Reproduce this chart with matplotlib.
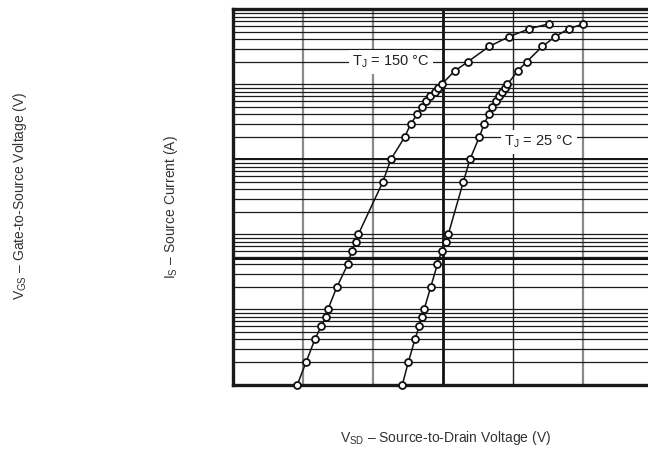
import matplotlib
matplotlib.use("Agg")
import matplotlib.pyplot as plt
from matplotlib.ticker import LogLocator, NullFormatter, FixedLocator

plt.rcParams['font.family'] = ['Liberation Sans', 'DejaVu Sans']
plt.rcParams['mathtext.fontset'] = 'custom'
plt.rcParams['mathtext.rm'] = 'Liberation Sans'
plt.rcParams['mathtext.it'] = 'Liberation Sans:italic'

# ---- data ----
source_current = [0.01, 0.02, 0.04, 0.06, 0.08, 0.1, 0.2, 0.4, 0.6, 0.8, 1.0,
                  5, 10, 20, 30, 40, 50, 60, 70, 80, 90, 100, 150, 200,
                  320, 430, 550, 640]
vsd_150 = [0.384, 0.409, 0.434, 0.452, 0.466, 0.471, 0.497, 0.528, 0.539, 0.552,
           0.558, 0.628, 0.651, 0.691, 0.708, 0.727, 0.739, 0.751, 0.764, 0.776,
           0.785, 0.796, 0.833, 0.871, 0.932, 0.988, 1.047, 1.102]
vsd_25 = [0.684, 0.701, 0.720, 0.732, 0.739, 0.746, 0.765, 0.784, 0.796, 0.808,
          0.815, 0.858, 0.877, 0.904, 0.918, 0.931, 0.941, 0.951, 0.960, 0.969,
          0.977, 0.984, 1.013, 1.039, 1.084, 1.120, 1.159, 1.201]
label_150 = "T$_{\\mathrm{J}}$ = 150 °C"
label_25 = "T$_{\\mathrm{J}}$ = 25 °C"
x_grid = [0.4, 0.6, 0.8, 1.0, 1.2]

W, H = 648, 449
fig = plt.figure(figsize=(W / 100, H / 100), dpi=100)
ax = fig.add_axes([233 / W, (H - 384.5) / H, 420 / W, 375.2 / H])

ax.set_yscale('log')
ax.set_xlim(0.2, 1.4)
ax.set_ylim(0.01, 1000)

# grid
ax.yaxis.set_major_locator(LogLocator(base=10, numticks=10))
ax.yaxis.set_minor_locator(LogLocator(base=10, subs=range(2, 10), numticks=20))
ax.yaxis.set_minor_formatter(NullFormatter())
ax.xaxis.set_major_locator(FixedLocator(x_grid))
ax.grid(axis='y', which='both', color='#1a1a1a', lw=0.9, zorder=1)
ax.tick_params(which='both', length=0, labelbottom=False, labelleft=False)

v_colors = ['#8a8a8a', '#8a8a8a', '#111111', '#222222', '#8a8a8a']
v_widths = [1.6, 1.6, 2.0, 1.0, 1.6]
for xv, c, lw in zip(x_grid, v_colors, v_widths):
    ax.axvline(xv, color=c, lw=lw, zorder=1)
ax.axhline(0.48, color='#111111', lw=2.2, zorder=1)
ax.axhline(10, color='#111111', lw=1.4, zorder=1)

for s in ['top', 'left', 'bottom']:
    ax.spines[s].set_linewidth(2.4)
    ax.spines[s].set_color('#1a1a1a')
ax.spines['right'].set_visible(False)

for xs in (vsd_150, vsd_25):
    ax.plot(xs, source_current, color='#111111', lw=1.1, marker='o', ms=5.0,
            mfc='white', mec='#111111', mew=1.3, zorder=3, clip_on=False)

bbox = dict(facecolor='white', edgecolor='none', pad=2.5)
ax.annotate(label_150, xy=(391, H - 62), xycoords='figure pixels', ha='center',
            va='center', fontsize=10.5, color='#222222', bbox=bbox, zorder=4)
ax.annotate(label_25, xy=(539, H - 142), xycoords='figure pixels', ha='center',
            va='center', fontsize=10.5, color='#222222', bbox=bbox, zorder=4)

fig.text(20 / W, 1 - 196 / H, "V$_{\\mathrm{GS}}$ – Gate-to-Source Voltage (V)",
         rotation=90, ha='center', va='center', fontsize=10, color='#333333')
fig.text(171 / W, 1 - 207.5 / H, "I$_{\\mathrm{S}}$ – Source Current (A)",
         rotation=90, ha='center', va='center', fontsize=10, color='#333333')
fig.text(446 / W, 1 - 429 / H, "V$_{\\mathrm{SD}}$ – Source-to-Drain Voltage (V)",
         ha='center', va='top', fontsize=10, color='#333333')

fig.savefig('out.png', dpi=100)
